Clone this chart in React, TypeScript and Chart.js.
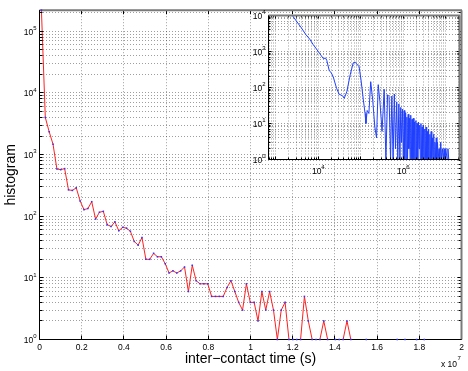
import React, { useEffect, useRef } from 'react';
import { Chart, registerables } from 'chart.js';

Chart.register(...registerables);

const FONT = '"Liberation Sans", Arial, Helvetica, sans-serif';
const GRID = 'rgba(0,0,0,0.38)';

// ---------- main histogram (linear x, log y) ----------
const BIN_WIDTH = 183300; // seconds per bin
const histCounts: (number | null)[] = [
  220000, 4000, 2350, 1470, 583, 570, 592, 268, 262, 289,
  177, 128, 133, 172, 90, 116, 120, 73, 68, 81,
  58, 66, 64, 57, 39, 34, 45, 20, 20, 25,
  22, 22, 17, 12, 13, 12, 13, 15, 6, 16,
  9, 8, 8, 8, 5, 5, 5, 5, 7, 9,
  6, 4, 3, 8, 4, 4, 2, 6, 3, 6,
  3, 1, 3, 4, 1, 1, 1, 1, 5, 2,
  1, 1, 1, 2, 1, null, 1, 1, 1, 2,
  1, null, null, null, 1, null, null, null, null, null,
  null, null, 1, null, 1, null, null, 1, null, 1,
];

const X_MAX = 2e7;
const xTickValues = [0, 2e6, 4e6, 6e6, 8e6, 1e7, 1.2e7, 1.4e7, 1.6e7, 1.8e7, 2e7];
const xTickLabels = ['0', '0.2', '0.4', '0.6', '0.8', '1', '1.2', '1.4', '1.6', '1.8', '2'];
const Y_MIN = 1;
const Y_MAX = 220000;
const yDecades = [1, 10, 100, 1000, 10000, 100000];
const yDecadeExponents = ['0', '1', '2', '3', '4', '5'];
const minorMultiples = [1, 2, 3, 4, 5, 6, 7, 8, 9];

// ---------- inset (log-log, finer bins) ----------
const insetX = [
  1995, 2455, 3162, 3981, 5012, 6310, 7586, 8913,
  10000, 11482, 13183, 14791, 15849, 18197, 19953, 22387,
  26915, 30903, 37154, 40738, 46774, 56234, 66069, 74131,
  79433, 91201, 101158, 114815, 125893, 131826, 141254, 154882,
  171000, 190546, 213796, 234423, 257040, 281838, 316228, 354813,
  389045, 426580, 462381, 501187, 537032, 575440, 616595, 653131,
  699842, 741310, 785236, 831764, 870964, 912011, 954993, 1000000,
  1047129, 1083927, 1135011, 1174898, 1216186, 1258925, 1303167, 1348963,
  1396368, 1445440, 1496236, 1548817, 1603245, 1659587, 1717908, 1778279,
  1840772, 1905461, 1972423, 2041738, 2113489, 2187762, 2264644, 2344229,
  2426610, 2511886, 2600160, 2691535, 2786121, 2884032, 2985383, 3090295,
  3198895, 3311311, 3427678, 3548134, 3672823, 3801894, 3935501, 4073803,
  4216965, 4365158, 4518559, 4677351, 4841724, 5011872, 5188000, 5370318,
  5559043, 5754399, 5956621, 6165950, 6382635, 6606934, 6918310, 7244360,
  7585776, 7943282, 8317638, 8709636, 9120108, 9549926, 10000000, 10715193,
  11220185, 11748976,
];
const insetY = [
  14125, 10000, 6607, 4571, 3020, 2188, 1549, 1202,
  1000, 794, 631, 661, 562, 288, 263, 200,
  95, 65, 59, 50, 76, 224, 479, 501,
  457, 380, 162, 45, 19, 10, 23, 19,
  145, 45, 8, 4, 120, 40, 6, 89,
  1, 63, 56, 1, 58, 1, 66, 2,
  40, 1, 35, 1, 28, 3, 25, 1,
  23, 1, 20, 1, 15, 1, 18, 2,
  14, 1, 17, 1, 13, 1, 14, 1,
  11, 1, 12, 1, 10, 1, 11, 2,
  9, 1, 10, 1, 8, 1, 9, 1,
  7, 1, 8, 1, 6, 1, 7, 1,
  5, 1, 6, 1, 4, 1, 5, 1,
  3, 1, 4, 1, 3, 1, 2, 1,
  3, 1, 2, 1, 2, 1, 2, 1,
  2, 1,
];
const INSET_X_MIN = 673;
const INSET_X_MAX = 2.1e7;
const INSET_Y_MIN = 1;
const INSET_Y_MAX = 10000;
const insetXDecades = [100, 1000, 10000, 100000, 1000000, 10000000];
const insetXLabelDecades = [10000, 1000000];
const insetXLabelExponents = ['4', '6'];
const insetYDecades = [1, 10, 100, 1000, 10000];
const insetYExponents = ['0', '1', '2', '3', '4'];

function logTicks(decades: number[], min: number, max: number) {
  const out: number[] = [];
  decades.forEach((d) =>
    minorMultiples.forEach((m) => {
      const v = d * m;
      if (v >= min && v <= max) out.push(v);
    })
  );
  return out;
}

const align = (p: number) => Math.round(p - 0.5) + 0.5;

// "10" with a raised exponent, as MATLAB draws log tick labels
function drawPow(
  ctx: CanvasRenderingContext2D,
  exp: string,
  x: number,
  baseline: number,
  mode: 'right' | 'center',
  baseSize: number,
  expSize: number,
  raise: number
) {
  ctx.font = `${baseSize}px ${FONT}`;
  const wb = ctx.measureText('10').width;
  ctx.font = `${expSize}px ${FONT}`;
  const we = ctx.measureText(exp).width;
  const start = mode === 'right' ? x - wb - we : x - (wb + we) / 2;
  ctx.font = `${baseSize}px ${FONT}`;
  ctx.fillText('10', start, baseline);
  ctx.font = `${expSize}px ${FONT}`;
  ctx.fillText(exp, start + wb, baseline - raise);
}

function drawFrame(
  chart: any,
  yMajor: number[],
  xMajor: number[] | null,
  lens: { yMaj: number; yMin: number; xMaj: number; xMin: number }
) {
  const { ctx, chartArea } = chart;
  const L = align(chartArea.left);
  const R = align(chartArea.right);
  const T = chartArea.top;
  const B = align(chartArea.bottom);
  const xs = chart.scales.x;
  const ys = chart.scales.y;
  ctx.save();
  ctx.lineWidth = 1;
  ctx.strokeStyle = '#000';
  ctx.beginPath();
  ys.ticks.forEach((t: any) => {
    const py = align(ys.getPixelForValue(t.value));
    const len = yMajor.includes(t.value) ? lens.yMaj : lens.yMin;
    ctx.moveTo(L, py);
    ctx.lineTo(L + len, py);
    ctx.moveTo(R, py);
    ctx.lineTo(R - len, py);
  });
  xs.ticks.forEach((t: any) => {
    const px = align(xs.getPixelForValue(t.value));
    const len = !xMajor || xMajor.includes(t.value) ? lens.xMaj : lens.xMin;
    ctx.moveTo(px, B);
    ctx.lineTo(px, B - len);
    ctx.moveTo(px, T);
    ctx.lineTo(px, T + len);
  });
  ctx.stroke();
  ctx.strokeStyle = '#7a7a7a';
  ctx.lineWidth = 2;
  ctx.beginPath();
  ctx.moveTo(L, T);
  ctx.lineTo(R + 0.5, T);
  ctx.moveTo(R, T);
  ctx.lineTo(R, B);
  ctx.stroke();
  ctx.strokeStyle = '#000';
  ctx.lineWidth = 1;
  ctx.beginPath();
  ctx.moveTo(L, T);
  ctx.lineTo(L, B);
  ctx.lineTo(R, B);
  ctx.stroke();
  ctx.restore();
}

function mainConfig(): any {
  const pts = histCounts.map((c, i) => ({ x: (i + 0.5) * BIN_WIDTH, y: c }));
  const yTicks = logTicks(yDecades, Y_MIN, Y_MAX);
  return {
    type: 'line',
    data: {
      datasets: [
        {
          data: pts,
          showLine: false,
          pointRadius: 1.1,
          pointBorderWidth: 0,
          pointBackgroundColor: '#3333ff',
          pointStyle: 'rect',
          clip: false,
          order: 1,
        },
        {
          data: pts,
          borderColor: '#ff2020',
          borderWidth: 1,
          pointRadius: 0,
          tension: 0,
          spanGaps: false,
          order: 2,
        },
      ],
    },
    options: {
      responsive: false,
      animation: false,
      events: [],
      layout: { padding: { left: 0, top: 6, right: 6.5, bottom: 0 } },
      plugins: { legend: { display: false }, tooltip: { enabled: false } },
      scales: {
        x: {
          type: 'linear',
          min: 0,
          max: X_MAX,
          afterBuildTicks: (s: any) => {
            s.ticks = xTickValues.map((v) => ({ value: v }));
          },
          afterFit: (s: any) => {
            s.height = 31.5;
          },
          ticks: {
            autoSkip: false,
            maxRotation: 0,
            minRotation: 0,
            padding: 2.6,
            color: '#000',
            font: { family: FONT, size: 8.5 },
            callback: (_v: any, i: number) => xTickLabels[i],
          },
          grid: { color: GRID, lineWidth: 1, drawTicks: false },
          border: { display: false, dash: [1, 2] },
          title: {
            display: true,
            text: 'inter−contact time (s)',
            color: '#000',
            font: { family: FONT, size: 14 },
            padding: { top: 0, bottom: 3.1 },
          },
        },
        y: {
          type: 'logarithmic',
          min: Y_MIN,
          max: Y_MAX,
          afterBuildTicks: (s: any) => {
            s.ticks = yTicks.map((v) => ({ value: v }));
          },
          afterFit: (s: any) => {
            s.width = 39.5;
          },
          ticks: {
            autoSkip: false,
            padding: 3,
            callback: () => '',
          },
          grid: { color: GRID, lineWidth: 1, drawTicks: false },
          border: { display: false, dash: [1, 2] },
          title: {
            display: true,
            text: 'histogram',
            color: '#000',
            font: { family: FONT, size: 14 },
            padding: { top: 2.6, bottom: 0 },
          },
        },
      },
    },
    plugins: [
      {
        id: 'mainFrame',
        beforeDatasetDraw(chart: any, args: any) {
          if (args.index === 0) {
            drawFrame(chart, yDecades, null, { yMaj: 4, yMin: 3, xMaj: 4, xMin: 4 });
          }
        },
        afterDraw(chart: any) {
          const { ctx, chartArea } = chart;
          const ys = chart.scales.y;
          ctx.save();
          ctx.fillStyle = '#000';
          ctx.textBaseline = 'alphabetic';
          ctx.textAlign = 'left';
          yDecades.forEach((d, i) => {
            const py = ys.getPixelForValue(d);
            drawPow(ctx, yDecadeExponents[i], chartArea.left - 3, py + 3.3, 'right', 8.5, 6, 4.6);
          });
          ctx.font = `8.5px ${FONT}`;
          ctx.fillText('x 10', 441, 366.5);
          ctx.font = `6px ${FONT}`;
          ctx.fillText('7', 457.5, 359.5);
          ctx.restore();
        },
      },
    ],
  };
}

function insetConfig(): any {
  const pts = insetX.map((x, i) => ({ x, y: insetY[i] }));
  const xTicks = logTicks(insetXDecades, INSET_X_MIN, INSET_X_MAX);
  const yTicks = logTicks(insetYDecades, INSET_Y_MIN, INSET_Y_MAX);
  return {
    type: 'line',
    data: {
      datasets: [
        {
          data: pts,
          borderColor: '#2040ff',
          borderWidth: 1,
          pointRadius: 0,
          tension: 0,
        },
      ],
    },
    options: {
      responsive: false,
      animation: false,
      events: [],
      layout: { padding: { left: 0, top: 15.5, right: 8.5, bottom: 0 } },
      plugins: { legend: { display: false }, tooltip: { enabled: false } },
      scales: {
        x: {
          type: 'logarithmic',
          min: INSET_X_MIN,
          max: INSET_X_MAX,
          afterBuildTicks: (s: any) => {
            s.ticks = xTicks.map((v) => ({ value: v }));
          },
          afterFit: (s: any) => {
            s.height = 20.5;
          },
          ticks: { autoSkip: false, maxRotation: 0, minRotation: 0, callback: () => '' },
          grid: { color: GRID, lineWidth: 1, drawTicks: false },
          border: { display: false, dash: [1, 2] },
        },
        y: {
          type: 'logarithmic',
          min: INSET_Y_MIN,
          max: INSET_Y_MAX,
          afterBuildTicks: (s: any) => {
            s.ticks = yTicks.map((v) => ({ value: v }));
          },
          afterFit: (s: any) => {
            s.width = 38.5;
          },
          ticks: { autoSkip: false, callback: () => '' },
          grid: { color: GRID, lineWidth: 1, drawTicks: false },
          border: { display: false, dash: [1, 2] },
        },
      },
    },
    plugins: [
      {
        id: 'insetFrame',
        beforeDraw(chart: any) {
          const { ctx, chartArea } = chart;
          ctx.save();
          ctx.fillStyle = '#fff';
          ctx.fillRect(chartArea.left, chartArea.top, chartArea.right - chartArea.left, chartArea.bottom - chartArea.top);
          ctx.restore();
        },
        afterDatasetsDraw(chart: any) {
          drawFrame(chart, insetYDecades, insetXDecades, { yMaj: 3, yMin: 2, xMaj: 3, xMin: 2 });
        },
        afterDraw(chart: any) {
          const { ctx, chartArea } = chart;
          const xs = chart.scales.x;
          const ys = chart.scales.y;
          ctx.save();
          ctx.fillStyle = '#000';
          ctx.textBaseline = 'alphabetic';
          ctx.textAlign = 'left';
          insetYDecades.forEach((d, i) => {
            const py = ys.getPixelForValue(d);
            drawPow(ctx, insetYExponents[i], chartArea.left - 3, py + 3.2, 'right', 8.5, 6, 4.4);
          });
          insetXLabelDecades.forEach((d, i) => {
            const px = xs.getPixelForValue(d);
            drawPow(ctx, insetXLabelExponents[i], px, chartArea.bottom + 14, 'center', 8.5, 6, 4.4);
          });
          ctx.restore();
        },
      },
    ],
  };
}

export default function App() {
  const mainRef = useRef<HTMLCanvasElement>(null);
  const insetRef = useRef<HTMLCanvasElement>(null);
  useEffect(() => {
    document.body.style.margin = '0';
    document.body.style.overflow = 'hidden';
    const main = new Chart(mainRef.current as HTMLCanvasElement, mainConfig());
    const inset = new Chart(insetRef.current as HTMLCanvasElement, insetConfig());
    return () => {
      main.destroy();
      inset.destroy();
    };
  }, []);
  return (
    <div style={{ position: 'relative', width: 468, height: 371, background: '#fff' }}>
      <canvas ref={mainRef} width={468} height={371} style={{ position: 'absolute', left: 0, top: 0 }} />
      <canvas ref={insetRef} width={238} height={180} style={{ position: 'absolute', left: 230, top: 0 }} />
    </div>
  );
}
